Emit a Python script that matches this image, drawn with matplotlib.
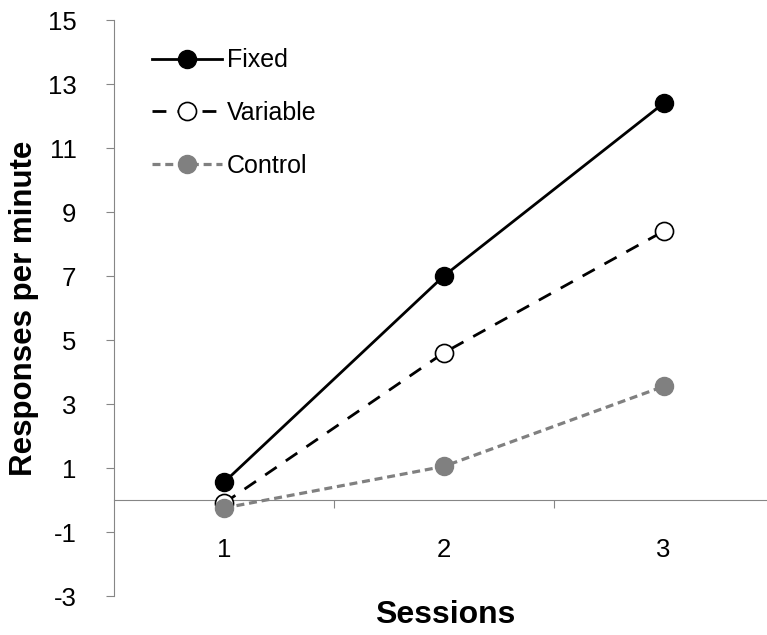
import numpy as np
import matplotlib.pyplot as plt

plt.rcParams['font.family'] = ['Liberation Sans', 'DejaVu Sans']

sessions = [1, 2, 3]
fixed = [0.55, 7.0, 12.4]
variable = [-0.1, 4.6, 8.4]
control = [-0.25, 1.05, 3.55]
y_ticks = [-3, -1, 1, 3, 5, 7, 9, 11, 13, 15]

fig = plt.figure(figsize=(7.67, 6.35), dpi=100)
ax = fig.add_axes([0.1486, 0.0614, 0.8514, 0.9071])

ax.plot(sessions, fixed, color='black', lw=2.0, marker='o', ms=13,
        mfc='black', mec='black', label='Fixed', zorder=3)
ax.plot(sessions, variable, color='black', lw=2.0, ls=(0, (5, 4)), marker='o', ms=13,
        mfc='white', mec='black', mew=1.2, label='Variable', zorder=3)
ax.plot(sessions, control, color='#808080', lw=2.3, ls=(0, (2.5, 1.5)), marker='o', ms=13,
        mfc='#808080', mec='#808080', label='Control', zorder=4)

ax.set_xlim(0.5, 3.47)
ax.set_ylim(-3, 15)
ax.set_yticks(y_ticks)
ax.set_yticklabels([str(v) for v in y_ticks], fontsize=18.5)

# category axis crossing at zero, tick marks between categories
ax.spines['top'].set_visible(False)
ax.spines['right'].set_visible(False)
ax.spines['bottom'].set_position(('data', 0))
ax.spines['bottom'].set_color('#868686')
ax.spines['left'].set_color('#868686')
ax.set_xticks([1.5, 2.5])
ax.set_xticklabels([])
ax.set_xticks(sessions, minor=True)
ax.set_xticklabels([str(s) for s in sessions], minor=True, fontsize=18.5)
ax.tick_params(axis='x', which='major', direction='out', length=6, color='#868686')
ax.tick_params(axis='x', which='minor', length=0, pad=27)
ax.tick_params(axis='y', direction='out', length=6, color='#868686', pad=21)

fig.text(0.031, 0.515, 'Responses per minute', fontsize=22.5, fontweight='bold',
         rotation=90, ha='center', va='center')
fig.text(0.58, 0.032, 'Sessions', fontsize=23, fontweight='bold', ha='center', va='center')

ax.legend(loc='upper left', bbox_to_anchor=(0.043, 0.968), frameon=False, fontsize=18,
          handlelength=2.8, labelspacing=1.15, handletextpad=0.2, borderaxespad=0)

fig.savefig('out.png', dpi=100)
